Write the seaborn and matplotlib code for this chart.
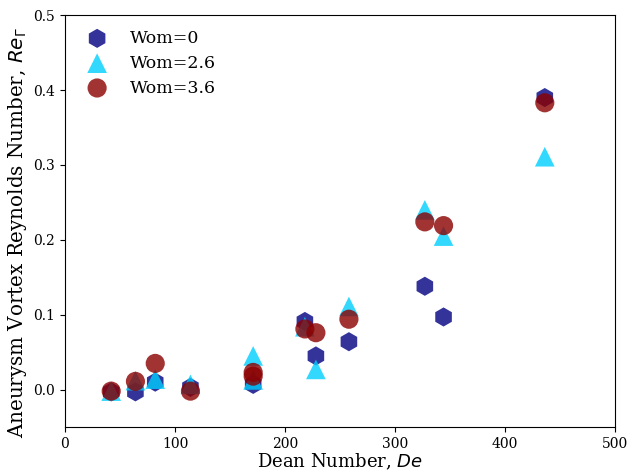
import numpy as np
import pandas as pd
import matplotlib
matplotlib.use("Agg")
import matplotlib.pyplot as plt
import seaborn as sns

# Dean number and vortex Reynolds number for each Womersley case
de_0 = [42, 64, 82, 114, 171, 218, 228, 258, 327, 344, 436]
re_0 = [-0.003, -0.003, 0.010, 0.003, 0.007, 0.091, 0.045, 0.064, 0.138, 0.097, 0.390]

de_26 = [42, 64, 82, 114, 171, 171, 218, 228, 258, 327, 344, 436]
re_26 = [-0.002, 0.012, 0.014, 0.007, 0.045, 0.013, 0.084, 0.027, 0.111, 0.240, 0.205, 0.311]

de_36 = [42, 64, 82, 114, 171, 171, 218, 228, 258, 327, 344, 436]
re_36 = [-0.002, 0.011, 0.035, -0.002, 0.023, 0.018, 0.081, 0.076, 0.094, 0.224, 0.219, 0.383]

labels = ["Wom=0", "Wom=2.6", "Wom=3.6"]

df = pd.concat([
    pd.DataFrame({"De": de_0, "Re": re_0, "case": labels[0]}),
    pd.DataFrame({"De": de_26, "Re": re_26, "case": labels[1]}),
    pd.DataFrame({"De": de_36, "Re": re_36, "case": labels[2]}),
])

sns.set_style("ticks", {"text.color": "black", "axes.labelcolor": "black",
                        "xtick.color": "black", "ytick.color": "black",
                        "axes.edgecolor": "black"})
plt.rcParams['font.family'] = ['DejaVu Serif']
plt.rcParams['mathtext.fontset'] = 'dejavusans'

fig, ax = plt.subplots(figsize=(6.31, 4.74), dpi=100)
fig.subplots_adjust(left=0.103, right=0.975, top=0.968, bottom=0.099)

palette = {labels[0]: "#000080", labels[1]: "#00cfff", labels[2]: "#8b0000"}
markers = {labels[0]: "h", labels[1]: "^", labels[2]: "o"}
sizes = {labels[0]: 190, labels[1]: 200, labels[2]: 190}

for lab in labels:
    sub = df[df["case"] == lab]
    sns.scatterplot(data=sub, x="De", y="Re", color=palette[lab], marker=markers[lab],
                    s=sizes[lab], alpha=0.8, edgecolor="none", label=lab, ax=ax)

ax.set_xlim(0, 500)
ax.set_ylim(-0.05, 0.5)
ax.set_xticks([0, 100, 200, 300, 400, 500])
ax.set_yticks([0.0, 0.1, 0.2, 0.3, 0.4, 0.5])
ax.set_xlabel("Dean Number, $De$", fontsize=13, labelpad=1)
ax.set_ylabel(r"Aneurysm Vortex Reynolds Number, $Re_\Gamma$", fontsize=14.3)
ax.yaxis.set_label_coords(-0.066, 0.473)
ax.tick_params(labelsize=10)
ax.legend(loc="upper left", frameon=False, fontsize=12.5, handletextpad=0.9,
          borderaxespad=0.45, labelspacing=0.45)

plt.savefig("out.png", dpi=100)
